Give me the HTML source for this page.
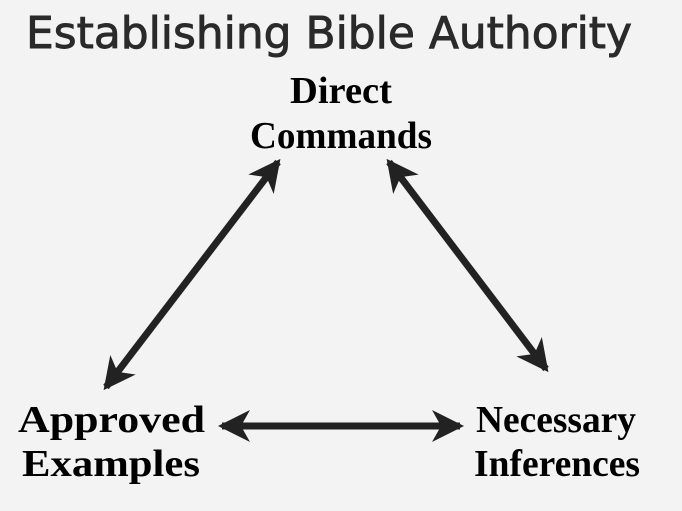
<!DOCTYPE html>
<html><head><style>
html,body{margin:0;padding:0;background:#f3f3f3;}
svg{display:block;}
</style></head><body>
<svg width="682" height="511" viewBox="0 0 682 511" xmlns="http://www.w3.org/2000/svg">
<defs>
<marker id="a" viewBox="0 0 32 34" refX="28" refY="17" markerWidth="32" markerHeight="34" markerUnits="userSpaceOnUse" orient="auto-start-reverse">
<path d="M0,1 L32,17 L0,33 L9,17 z" fill="#222"/>
</marker>
</defs>
<rect width="682" height="511" fill="#f3f3f3"/>
<text x="26" y="48" textLength="606" lengthAdjust="spacingAndGlyphs" font-family="'DejaVu Sans','Liberation Sans',sans-serif" font-size="44" fill="#2a2a2a" stroke="#2a2a2a" stroke-width="0.9">Establishing Bible Authority</text>
<g font-family="'Liberation Serif',serif" font-weight="bold" font-size="38" fill="#000" lengthAdjust="spacingAndGlyphs">
<text x="290" y="103" textLength="102" lengthAdjust="spacingAndGlyphs">Direct</text>
<text x="250" y="148" textLength="182" lengthAdjust="spacingAndGlyphs">Commands</text>
<text x="18" y="432" textLength="187" lengthAdjust="spacingAndGlyphs">Approved</text>
<text x="22" y="476" textLength="178" lengthAdjust="spacingAndGlyphs">Examples</text>
<text x="476" y="432" textLength="160" lengthAdjust="spacingAndGlyphs">Necessary</text>
<text x="474" y="476" textLength="166" lengthAdjust="spacingAndGlyphs">Inferences</text>
</g>
<g stroke="#222" stroke-width="7" fill="none">
<line x1="278" y1="162" x2="106" y2="387" marker-start="url(#a)" marker-end="url(#a)"/>
<line x1="389" y1="162" x2="546" y2="369" marker-start="url(#a)" marker-end="url(#a)"/>
<line x1="222" y1="426" x2="460" y2="426" marker-start="url(#a)" marker-end="url(#a)"/>
</g>
</svg>
</body></html>
